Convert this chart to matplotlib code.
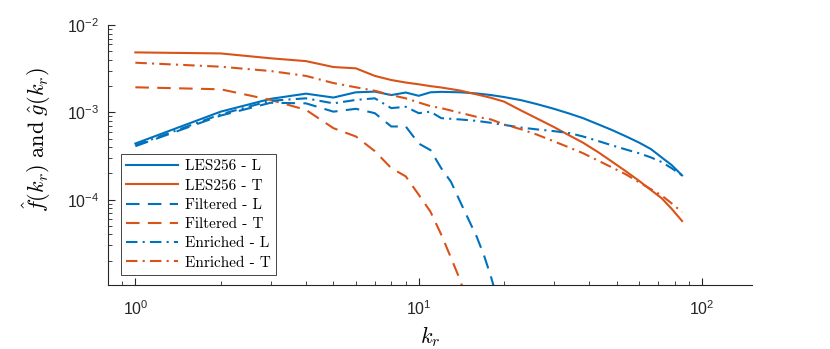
import numpy as np
import matplotlib
matplotlib.use("Agg")
import matplotlib.pyplot as plt
from matplotlib.ticker import LogLocator, NullFormatter, FixedLocator

plt.rcParams['font.family'] = ['Liberation Sans', 'DejaVu Sans']
plt.rcParams['mathtext.fontset'] = 'custom'
plt.rcParams['mathtext.rm'] = 'Liberation Sans'
plt.rcParams['mathtext.it'] = 'Liberation Sans:italic'

# wavenumbers
k_low = [1, 2, 3, 4, 5, 6, 7, 8, 9]
k_high = [10, 11, 12, 14, 16, 18, 20, 23, 26, 30, 34, 38, 43, 48, 54, 60, 66, 72, 78, 85]
k_full = k_low + k_high
k_filt_T = [1, 2, 3, 4, 5, 6, 7, 8, 9, 10, 11, 12, 13, 14, 15]
k_filt_L = [1, 2, 3, 4, 5, 6, 7, 8, 9, 10, 11, 12, 13, 14, 15, 16, 17, 18, 19]

les_L = [4.4e-4, 1.02e-3, 1.43e-3, 1.64e-3, 1.48e-3, 1.70e-3, 1.73e-3, 1.58e-3, 1.69e-3,
         1.55e-3, 1.70e-3, 1.72e-3, 1.70e-3, 1.65e-3, 1.58e-3, 1.50e-3, 1.38e-3, 1.25e-3,
         1.10e-3, 9.7e-4, 8.6e-4, 7.3e-4, 6.3e-4, 5.3e-4, 4.5e-4, 3.8e-4, 3.05e-4, 2.5e-4, 1.9e-4]
les_T = [4.87e-3, 4.74e-3, 4.17e-3, 3.87e-3, 3.31e-3, 3.20e-3, 2.62e-3, 2.35e-3, 2.20e-3,
         2.10e-3, 2.00e-3, 1.93e-3, 1.78e-3, 1.61e-3, 1.47e-3, 1.33e-3, 1.05e-3, 8.6e-4,
         6.8e-4, 5.45e-4, 4.5e-4, 3.5e-4, 2.74e-4, 2.1e-4, 1.64e-4, 1.29e-4, 1.04e-4, 7.9e-5, 5.7e-5]
filt_L = [4.1e-4, 9.2e-4, 1.29e-3, 1.27e-3, 1.02e-3, 1.10e-3, 9.8e-4, 6.9e-4, 6.9e-4,
          4.4e-4, 3.7e-4, 2.3e-4, 1.6e-4, 9.5e-5, 5.9e-5, 3.8e-5, 2.3e-5, 1.3e-5, 7e-6]
filt_T = [1.94e-3, 1.84e-3, 1.39e-3, 1.07e-3, 6.6e-4, 5.3e-4, 3.6e-4, 2.3e-4, 1.85e-4,
          1.14e-4, 7.3e-5, 4.0e-5, 2.16e-5, 1.2e-5, 6e-6]
enr_L = [4.2e-4, 9.5e-4, 1.36e-3, 1.45e-3, 1.27e-3, 1.39e-3, 1.45e-3, 1.12e-3, 1.16e-3,
         9.8e-4, 1.02e-3, 8.6e-4, 8.3e-4, 8.0e-4, 7.6e-4, 7.2e-4, 6.7e-4, 6.4e-4,
         6.1e-4, 5.8e-4, 5.3e-4, 4.7e-4, 4.2e-4, 3.75e-4, 3.4e-4, 3.05e-4, 2.7e-4, 2.3e-4, 1.9e-4]
enr_T = [3.71e-3, 3.34e-3, 2.98e-3, 2.62e-3, 2.17e-3, 1.94e-3, 1.77e-3, 1.58e-3, 1.45e-3,
         1.30e-3, 1.18e-3, 1.12e-3, 9.9e-4, 8.9e-4, 8.3e-4, 7.3e-4, 6.4e-4, 5.6e-4,
         4.66e-4, 3.96e-4, 3.41e-4, 2.8e-4, 2.35e-4, 1.94e-4, 1.58e-4, 1.32e-4, 1.12e-4, 9.1e-5, 7.2e-5]
labels = ['LES256 - L', 'LES256 - T', 'Filtered - L', 'Filtered - T', 'Enriched - L', 'Enriched - T']

blue = '#0072BD'
orange = '#D95319'
lw = 1.5
dash = (0, (6.5, 4))
dashdot = (0, (5.5, 2.5, 1, 2.5))

fig = plt.figure(figsize=(8.3, 3.49), dpi=100)
ax = fig.add_axes([0.130, 0.183, 0.776, 0.745])

ax.plot(k_full, les_L, color=blue, lw=lw, ls='-', label=labels[0])
ax.plot(k_full, les_T, color=orange, lw=lw, ls='-', label=labels[1])
ax.plot(k_filt_L, filt_L, color=blue, lw=lw, ls=dash, label=labels[2])
ax.plot(k_filt_T, filt_T, color=orange, lw=lw, ls=dash, label=labels[3])
ax.plot(k_full, enr_L, color=blue, lw=lw, ls=dashdot, label=labels[4])
ax.plot(k_full, enr_T, color=orange, lw=lw, ls=dashdot, label=labels[5])

ax.set_xscale('log')
ax.set_yscale('log')
ax.set_xlim(0.8, 150)
ax.set_ylim(1.05e-5, 1e-2)

for s in ['top', 'right']:
    ax.spines[s].set_visible(False)
for s in ['left', 'bottom']:
    ax.spines[s].set_color('#262626')
    ax.spines[s].set_linewidth(0.8)

ax.yaxis.set_major_locator(FixedLocator([1e-4, 1e-3, 1e-2]))
ax.yaxis.set_minor_locator(LogLocator(base=10, subs=np.arange(2, 10), numticks=20))
ax.yaxis.set_minor_formatter(NullFormatter())
ax.xaxis.set_minor_locator(LogLocator(base=10, subs=np.arange(2, 10), numticks=20))
ax.xaxis.set_minor_formatter(NullFormatter())
ax.tick_params(which='both', direction='in', colors='#262626', labelsize=11.5)
ax.tick_params(which='major', length=5, width=0.8)
ax.tick_params(which='minor', length=3, width=0.6)
ax.tick_params(axis='x', pad=10)
ax.tick_params(axis='y', pad=6)

ax.set_xlabel(r'$k_r$', fontsize=16, math_fontfamily='cm', labelpad=5)
ax.set_ylabel(r'$\hat{f}(k_r)\ \mathrm{and}\ \hat{g}(k_r)$', fontsize=16,
              math_fontfamily='cm')
ax.yaxis.set_label_coords(-0.085, 0.56)

leg = ax.legend(loc='lower left', bbox_to_anchor=(0.008, 0.01),
                prop={'family': 'cmr10', 'size': 11},
                handlelength=3.4, handletextpad=0.45, labelspacing=0.36,
                borderpad=0.35, fancybox=False, framealpha=1, edgecolor='#262626')
leg.get_frame().set_linewidth(0.6)

fig.savefig('out.png', dpi=100)
